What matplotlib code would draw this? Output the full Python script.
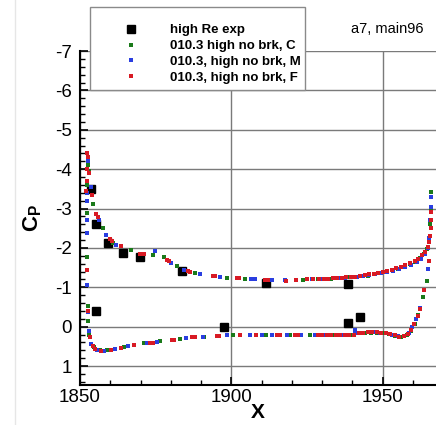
import numpy as np
import matplotlib
matplotlib.use('Agg')
import matplotlib.pyplot as plt
from matplotlib.ticker import MultipleLocator
from matplotlib.lines import Line2D
from matplotlib.patches import Rectangle

plt.rcParams['font.family'] = ['Liberation Sans', 'DejaVu Sans']
plt.rcParams['axes.unicode_minus'] = False
plt.rcParams['mathtext.fontset'] = 'custom'
plt.rcParams['mathtext.rm'] = 'Liberation Sans'
plt.rcParams['mathtext.bf'] = 'Liberation Sans:bold'

#%% data
exp_x = [1853.6, 1855.3, 1859.1, 1864.1, 1869.8, 1883.8, 1911.3, 1938.6,
         1855.2, 1897.6, 1938.6, 1942.6]
exp_cp = [-3.50, -2.61, -2.13, -1.87, -1.76, -1.42, -1.10, -1.08,
          -0.41, 0.00, -0.09, -0.25]

# 010.3 high no brk, C (green)
c_up_x = [1852.3, 1852.3, 1852.4, 1852.6, 1853.0, 1854.3, 1857.6, 1861.0, 1866.7, 1874.2,
          1877.7, 1881.9, 1888.0, 1898.4, 1904.5, 1913.0, 1923.6, 1928.5, 1931.0, 1933.0,
          1935.0, 1937.0, 1939.0, 1941.0, 1943.0, 1945.0, 1947.0, 1949.0, 1951.0, 1953.0,
          1955.0, 1957.0, 1959.0, 1960.8, 1962.4, 1963.6, 1964.6, 1965.3, 1965.7, 1965.9, 1965.9]
c_up_cp = [-1.76, -2.88, -3.60, -4.10, -3.95, -3.12, -2.51, -2.12, -1.95, -1.83,
           -1.76, -1.55, -1.36, -1.24, -1.21, -1.19, -1.19, -1.21, -1.21, -1.22,
           -1.23, -1.24, -1.25, -1.26, -1.28, -1.30, -1.33, -1.36, -1.39, -1.43,
           -1.47, -1.52, -1.58, -1.65, -1.74, -1.85, -1.98, -2.20, -2.60, -3.00, -3.42]
c_lo_x = [1852.5, 1852.6, 1853.0, 1854.5, 1856.5, 1859.0, 1864.5, 1871.0, 1876.5, 1883.0,
          1891.0, 1900.5, 1911.5, 1919.5, 1926.0, 1930.0, 1932.0, 1934.0, 1936.0, 1938.0,
          1940.0, 1942.0, 1944.0, 1946.0, 1948.0, 1950.0, 1952.0, 1954.0, 1956.0, 1958.0,
          1959.5, 1960.6, 1961.6, 1963.2, 1964.5]
c_lo_cp = [-0.53, -0.14, 0.22, 0.52, 0.60, 0.59, 0.52, 0.42, 0.37, 0.31,
           0.26, 0.22, 0.21, 0.22, 0.22, 0.22, 0.22, 0.22, 0.22, 0.21,
           0.20, 0.16, 0.15, 0.15, 0.15, 0.16, 0.19, 0.23, 0.25, 0.21,
           0.10, -0.08, -0.30, -0.75, -1.17]

# 010.3, high no brk, M (blue)
m_up_x = [1852.4, 1852.3, 1852.2, 1852.2, 1852.3, 1852.5, 1852.8, 1853.5, 1856.2, 1858.7,
          1862.0, 1870.3, 1874.8, 1879.9, 1884.5, 1889.8, 1896.2, 1906.6, 1907.8, 1912.0,
          1913.5, 1917.7, 1925.0, 1926.5, 1929.5, 1931.5, 1933.5, 1935.5, 1937.5, 1939.5,
          1941.5, 1943.5, 1945.5, 1947.5, 1949.5, 1951.5, 1953.5, 1955.5, 1957.5, 1959.5,
          1961.2, 1962.7, 1963.9, 1964.8, 1965.4, 1965.7, 1965.8, 1965.8]
m_up_cp = [-1.07, -2.37, -2.72, -3.20, -3.40, -4.31, -4.20, -3.55, -2.71, -2.32,
           -2.08, -1.85, -1.93, -1.63, -1.45, -1.34, -1.27, -1.20, -1.20, -1.19,
           -1.19, -1.18, -1.20, -1.21, -1.22, -1.22, -1.23, -1.24, -1.24, -1.25,
           -1.27, -1.29, -1.31, -1.34, -1.36, -1.39, -1.42, -1.46, -1.51, -1.57,
           -1.64, -1.73, -1.85, -2.00, -2.25, -2.70, -3.05, -3.30]
m_lo_x = [1852.7, 1853.1, 1853.7, 1855.5, 1858.0, 1861.5, 1866.0, 1872.0, 1875.5, 1885.0,
          1890.5, 1898.5, 1906.0, 1910.0, 1913.5, 1918.5, 1923.0, 1927.5, 1930.5, 1932.5,
          1934.5, 1936.5, 1938.5, 1940.8, 1941.0, 1943.0, 1945.0, 1947.0, 1949.0, 1951.0,
          1953.0, 1955.0, 1957.0, 1958.6, 1959.8, 1960.9, 1962.2, 1965.0]
m_lo_cp = [-0.38, 0.10, 0.44, 0.58, 0.61, 0.57, 0.50, 0.41, 0.38, 0.29,
           0.26, 0.22, 0.21, 0.20, 0.21, 0.22, 0.22, 0.22, 0.22, 0.22,
           0.22, 0.21, 0.21, 0.08, 0.17, 0.15, 0.14, 0.14, 0.15, 0.17,
           0.20, 0.24, 0.24, 0.17, 0.02, -0.20, -0.48, -1.47]

# 010.3, high no brk, F (red)
f_up_x = [1852.2, 1852.1, 1852.2, 1852.3, 1852.4, 1852.6, 1853.0, 1853.8, 1855.4, 1856.0,
          1859.8, 1860.5, 1863.6, 1869.7, 1871.0, 1878.8, 1879.5, 1885.7, 1886.5, 1893.8,
          1894.6, 1901.7, 1902.5, 1911.0, 1912.0, 1918.0, 1921.5, 1925.0, 1927.0, 1929.0,
          1930.5, 1932.0, 1933.5, 1935.0, 1936.5, 1938.0, 1939.5, 1941.0, 1942.5, 1944.0,
          1945.5, 1947.0, 1948.5, 1950.0, 1951.5, 1953.0, 1954.5, 1956.0, 1957.5, 1959.0,
          1960.5, 1961.8, 1963.0, 1964.0, 1964.8, 1965.3, 1965.6, 1965.8, 1965.9, 1965.9]
f_up_cp = [-1.44, -3.45, -3.70, -4.00, -4.41, -4.30, -3.89, -3.35, -2.85, -2.78,
           -2.23, -2.17, -2.04, -1.85, -1.84, -1.70, -1.67, -1.42, -1.40, -1.29,
           -1.28, -1.23, -1.23, -1.19, -1.19, -1.17, -1.18, -1.20, -1.21, -1.21,
           -1.22, -1.22, -1.23, -1.23, -1.24, -1.25, -1.26, -1.27, -1.29, -1.31,
           -1.33, -1.35, -1.37, -1.39, -1.42, -1.45, -1.48, -1.52, -1.56, -1.61,
           -1.67, -1.73, -1.81, -1.90, -2.02, -2.15, -2.30, -2.50, -2.70, -2.90]
f_lo_x = [1852.6, 1853.2, 1854.2, 1854.9, 1857.0, 1860.3, 1863.6, 1868.0, 1873.1, 1874.0,
          1880.3, 1881.2, 1886.9, 1888.0, 1895.1, 1896.0, 1903.0, 1908.3, 1915.0, 1916.0,
          1921.0, 1922.0, 1928.5, 1930.0, 1931.5, 1933.0, 1934.5, 1936.0, 1937.5, 1939.0,
          1940.5, 1942.0, 1943.5, 1945.0, 1946.5, 1948.0, 1949.5, 1951.0, 1952.5, 1954.0,
          1955.5, 1957.0, 1958.2, 1959.3, 1960.4, 1961.5, 1962.4, 1963.5, 1965.2]
f_lo_cp = [-0.41, 0.27, 0.50, 0.57, 0.61, 0.58, 0.53, 0.47, 0.42, 0.41,
           0.34, 0.33, 0.27, 0.27, 0.24, 0.24, 0.21, 0.20, 0.21, 0.21,
           0.22, 0.22, 0.22, 0.22, 0.22, 0.22, 0.22, 0.22, 0.21, 0.21,
           0.20, 0.17, 0.15, 0.14, 0.14, 0.14, 0.15, 0.16, 0.19, 0.22,
           0.25, 0.24, 0.19, 0.08, -0.06, -0.27, -0.45, -0.92, -1.68]

labels = ['high Re exp', '010.3 high no brk, C', '010.3, high no brk, M', '010.3, high no brk, F']
colors = ['black', '#1a7a1a', '#2a3ee0', '#d81a24']

#%% plot
W, H = 436, 425
fig = plt.figure(figsize=(W/100, H/100), dpi=100)
ax = fig.add_axes([80/W, 1-385/H, 1-80/W, (385-51)/H])

dot_ms = 2.8
ax.plot(exp_x, exp_cp, 's', color=colors[0], ms=6.3, zorder=3)
ax.plot(c_up_x + c_lo_x, c_up_cp + c_lo_cp, 's', color=colors[1], ms=dot_ms, mew=0, zorder=4)
ax.plot(m_up_x + m_lo_x, m_up_cp + m_lo_cp, 's', color=colors[2], ms=dot_ms, mew=0, zorder=5)
ax.plot(f_up_x + f_lo_x, f_up_cp + f_lo_cp, 's', color=colors[3], ms=dot_ms, mew=0, zorder=6)

ax.set_xlim(1850, 1967.6)
ax.set_ylim(1.48, -7.0)
ax.xaxis.set_major_locator(MultipleLocator(50))
ax.xaxis.set_minor_locator(MultipleLocator(10))
ax.yaxis.set_major_locator(MultipleLocator(1))
ax.yaxis.set_minor_locator(MultipleLocator(0.2))
ax.grid(which='major', color='#7a7a7a', linewidth=1.0)
ax.set_axisbelow(True)

for s in ['top', 'right']:
    ax.spines[s].set_visible(False)
for s in ['left', 'bottom']:
    ax.spines[s].set_linewidth(1.5)
ax.tick_params(which='major', direction='in', length=6, width=1.2, labelsize=13.5, pad=3)
ax.tick_params(which='minor', direction='in', length=3.5, width=1.0)
ax.tick_params(axis='y', pad=6)

ax.set_xlabel('X', fontsize=15, fontweight='bold', labelpad=-2)
ax.set_ylabel(r'$\mathbf{C_P}$', fontsize=16, labelpad=8)

# legend box
fig.patches.append(Rectangle((90/W, 1-90/H), (305-90)/W, (90-7)/H, transform=fig.transFigure,
                             facecolor='white', edgecolor='#8a8a8a', linewidth=1.0, zorder=4))
handles = [Line2D([], [], ls='none', marker='s', color=colors[0], ms=5.5)]
for c in colors[1:]:
    handles.append(Line2D([], [], ls='none', marker='s', color=c, ms=2.6, mew=0))
fig.legend(handles, labels, loc='upper left', bbox_to_anchor=(117.5/W, 1-24/H),
           frameon=False, borderpad=0, borderaxespad=0, handlelength=2.0,
           handletextpad=1.95, labelspacing=0.28, numpoints=1,
           prop={'size': 9.5, 'weight': 'bold'})

fig.text(387/W, 1-29/H, 'a7, main96', fontsize=10.5, ha='center', va='center')

# faint outer frame line
fig.lines.append(Line2D([15/W, 15/W], [0, 1], transform=fig.transFigure, color='#e6e6e6', lw=1))

plt.savefig('out.png', dpi=100)
